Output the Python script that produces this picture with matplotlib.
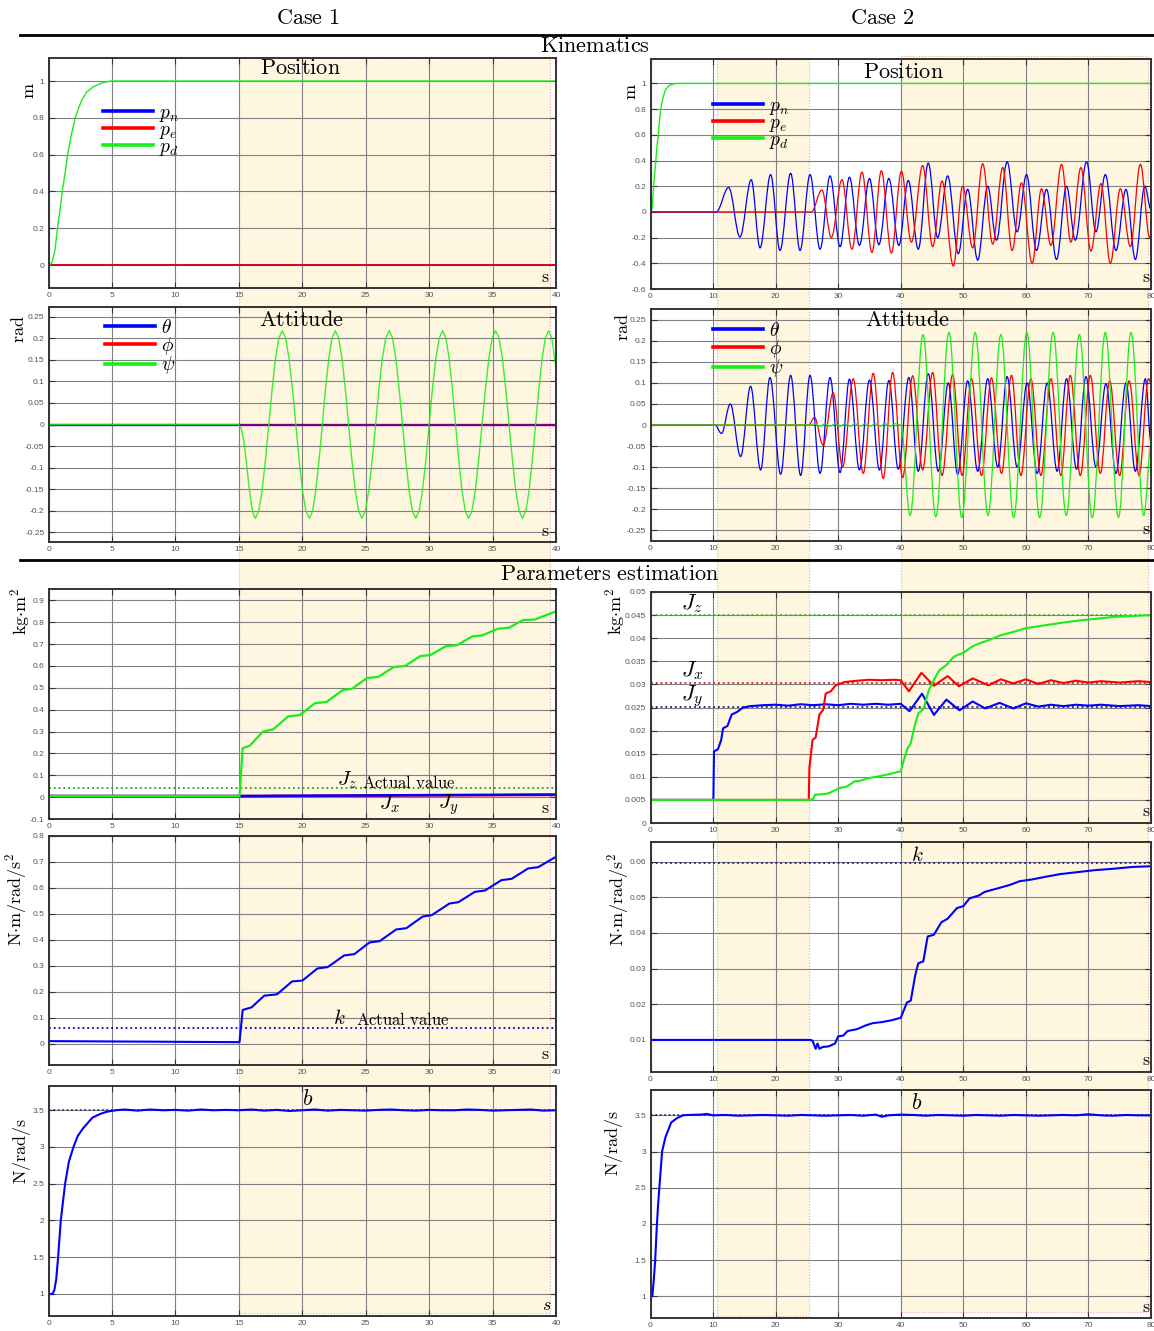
import numpy as np
import matplotlib
matplotlib.use('Agg')
import matplotlib.pyplot as plt
from matplotlib.patches import Rectangle, PathPatch
from matplotlib.path import Path
from matplotlib.lines import Line2D
from matplotlib.transforms import blended_transform_factory
from matplotlib.ticker import MultipleLocator, FuncFormatter

plt.rcParams['mathtext.fontset'] = 'cm'
plt.rcParams['axes.unicode_minus'] = False
plt.rcParams['font.family'] = ['Liberation Sans', 'DejaVu Sans']

# ---------------- text ----------------
case_titles = [r'$\mathrm{Case\ 1}$', r'$\mathrm{Case\ 2}$']
section_titles = [r'$\mathrm{Kinematics}$', r'$\mathrm{Parameters\ estimation}$']
panel_titles = [r'$\mathrm{Position}$', r'$\mathrm{Attitude}$']
pos_labels = [r'$p_n$', r'$p_e$', r'$p_d$']
att_labels = [r'$\theta$', r'$\phi$', r'$\psi$']
y_units = [r'$\mathrm{m}$', r'$\mathrm{rad}$', r'$\mathrm{kg{\cdot}m^2}$',
           r'$\mathrm{N{\cdot}m/rad/s^2}$', r'$\mathrm{N/rad/s}$']

# ---------------- data ----------------
c1_shades = [(15.0, 39.5)]
c2_shades = [(10.6, 25.4), (40.0, 79.6)]

# Case 1 - position
c1_pos_t = [0, 40]
c1_pn = [0, 0]
c1_pe = [0, 0]
c1_pd_t = [0, 0.25, 0.5, 0.7, 0.9, 1.08, 1.3, 1.5, 1.8, 2.1, 2.4, 2.65, 3.0, 3.55, 4.2, 4.9, 40]
c1_pd = [0, 0.01, 0.08, 0.2, 0.3, 0.4, 0.5, 0.6, 0.71, 0.8, 0.86, 0.9, 0.94, 0.97, 0.99, 1.0, 1.0]

# Case 1 - attitude
c1_att_t = [0, 40]
c1_theta = [0, 0]
c1_phi = [0, 0]
c1_psi_pts = [(0, 0), (15.0, 0), (15.2, -0.01), (15.4, -0.04), (15.6, -0.09), (15.8, -0.145),
              (16.0, -0.19), (16.15, -0.21), (16.3, -0.218),
              (16.565, -0.201), (16.83, -0.154), (17.095, -0.083), (17.36, 0), (17.625, 0.083), (17.89, 0.154), (18.155, 0.201), (18.42, 0.218),
              (18.69, 0.201), (18.95, 0.154), (19.22, 0.083), (19.49, 0), (19.75, -0.083), (20.02, -0.154), (20.28, -0.201), (20.55, -0.218),
              (20.81, -0.201), (21.06, -0.154), (21.32, -0.083), (21.58, 0), (21.83, 0.083), (22.09, 0.154), (22.34, 0.201), (22.6, 0.218),
              (22.86, 0.201), (23.13, 0.154), (23.39, 0.083), (23.65, 0), (23.91, -0.083), (24.18, -0.154), (24.44, -0.201), (24.7, -0.218),
              (24.97, -0.201), (25.24, -0.154), (25.51, -0.083), (25.78, 0), (26.04, 0.083), (26.31, 0.154), (26.58, 0.201), (26.85, 0.218),
              (27.11, 0.201), (27.37, 0.154), (27.63, 0.083), (27.9, 0), (28.16, -0.083), (28.42, -0.154), (28.68, -0.201), (28.94, -0.218),
              (29.21, -0.201), (29.47, -0.154), (29.74, -0.083), (30.0, 0), (30.26, 0.083), (30.53, 0.154), (30.8, 0.201), (31.06, 0.218),
              (31.32, 0.201), (31.57, 0.154), (31.83, 0.083), (32.08, 0), (32.34, -0.083), (32.59, -0.154), (32.85, -0.201), (33.1, -0.218),
              (33.37, -0.201), (33.64, -0.154), (33.9, -0.083), (34.17, 0), (34.44, 0.083), (34.71, 0.154), (34.97, 0.201), (35.24, 0.218),
              (35.51, 0.201), (35.77, 0.154), (36.04, 0.083), (36.3, 0), (36.57, -0.083), (36.83, -0.154), (37.1, -0.201), (37.36, -0.218),
              (37.62, -0.201), (37.88, -0.154), (38.13, -0.083), (38.39, 0), (38.65, 0.083), (38.91, 0.154), (39.16, 0.201), (39.42, 0.218),
              (39.68, 0.2), (40.0, 0.13)]

# Case 1 - inertia estimates
c1_J_pts_z = [(0, 0.005), (15.05, 0.005), (15.3, 0.224), (15.85, 0.235), (16.9, 0.3), (17.7, 0.31), (18.9, 0.37),
              (19.8, 0.375), (21.0, 0.43), (21.9, 0.435), (23.2, 0.49), (23.9, 0.495), (25.1, 0.545), (26.0, 0.55),
              (27.2, 0.595), (28.1, 0.6), (29.3, 0.645), (30.1, 0.65), (31.3, 0.69), (32.2, 0.695), (33.4, 0.735),
              (34.2, 0.74), (35.4, 0.77), (36.3, 0.775), (37.4, 0.81), (38.3, 0.812), (39.8, 0.845), (40.0, 0.85)]
c1_J_t_xy = [0, 15, 40]
c1_Jx = [0.005, 0.005, 0.010]
c1_Jy = [0.005, 0.005, 0.012]
c1_Jz_true = 0.04

# Case 1 - k estimate
c1_k_pts = [(0, 0.01), (15.05, 0.006), (15.3, 0.13), (16.0, 0.14), (17.0, 0.185), (18.0, 0.19), (19.2, 0.24),
            (20.0, 0.243), (21.2, 0.29), (22.0, 0.295), (23.3, 0.34), (24.1, 0.345), (25.3, 0.39), (26.1, 0.395),
            (27.4, 0.44), (28.2, 0.445), (29.5, 0.49), (30.2, 0.495), (31.6, 0.54), (32.3, 0.545), (33.6, 0.585),
            (34.4, 0.59), (35.7, 0.63), (36.5, 0.635), (37.8, 0.675), (38.6, 0.68), (40.0, 0.72)]
c1_k_true = 0.06

# Case 1 - b estimate
c1_b_pts = [(0, 1.0), (0.3, 1.0), (0.45, 1.05), (0.6, 1.2), (0.75, 1.5), (0.96, 2.0), (1.3, 2.5), (1.6, 2.8), (1.96, 3.0),
            (2.3, 3.15), (2.7, 3.25), (3.1, 3.33), (3.46, 3.4), (4.07, 3.45), (4.6, 3.48), (5.3, 3.5),
            (6, 3.51), (7, 3.495), (8, 3.51), (9, 3.5), (10, 3.505), (11, 3.495), (12, 3.51), (13, 3.5),
            (14, 3.505), (15, 3.5), (16, 3.51), (17, 3.495), (18, 3.505), (19, 3.49), (20, 3.5), (21, 3.51),
            (22, 3.495), (23, 3.505), (24, 3.5), (25, 3.495), (26, 3.505), (27, 3.51), (28, 3.5), (29, 3.495),
            (30, 3.505), (31, 3.5), (32, 3.5), (33, 3.51), (34, 3.505), (35, 3.495), (36, 3.5), (37, 3.505),
            (38, 3.51), (39, 3.495), (40, 3.5)]
c1_b_true = 3.5

# Case 2 - position (extrema of the oscillations)
c2_pn_pts = [(0, 0), (10.5, 0), (12.5, 0.19), (14.3, -0.195), (16.1, 0.25), (17.5, -0.28), (19.2, 0.29),
             (20.7, -0.30), (22.4, 0.30), (23.9, -0.30), (25.5, 0.29), (27.1, -0.29), (28.7, 0.28), (30.3, -0.27),
             (31.8, 0.27), (33.4, -0.26), (35.0, 0.26), (36.5, -0.255), (38.1, 0.26), (39.7, -0.26), (41.2, 0.245),
             (42.8, -0.29), (44.4, 0.38), (45.9, -0.2), (47.5, 0.28), (49.2, -0.325), (50.7, 0.175), (52.3, -0.375),
             (53.9, 0.2), (55.3, -0.22), (57.0, 0.39), (58.6, -0.155), (60.1, 0.29), (61.7, -0.30), (63.3, 0.175),
             (64.9, -0.37), (66.5, 0.2), (67.9, -0.22), (69.7, 0.39), (71.2, -0.155), (72.7, 0.29), (74.4, -0.30),
             (76.0, 0.175), (77.5, -0.37), (79.0, 0.2), (80.0, 0.02)]
c2_pe_pts = [(0, 0), (25.7, 0), (27.4, 0.17), (28.9, -0.2), (30.6, 0.25), (32.2, -0.29), (33.8, 0.31),
             (35.4, -0.315), (36.9, 0.32), (38.5, -0.32), (40.1, 0.315), (41.7, -0.235), (43.5, 0.36), (45.1, -0.27),
             (46.6, 0.24), (48.4, -0.42), (49.9, 0.2), (51.5, -0.28), (53.1, 0.375), (54.7, -0.25), (56.3, 0.345),
             (57.8, -0.3), (59.3, 0.225), (61.0, -0.4), (62.5, 0.18), (64.0, -0.26), (65.7, 0.37), (67.2, -0.235),
             (68.8, 0.345), (70.4, -0.305), (72.0, 0.22), (73.5, -0.4), (75.1, 0.18), (76.7, -0.27), (78.3, 0.37),
             (79.8, -0.2), (80.0, -0.19)]
c2_pd_pts = [(0, 0), (0.25, 0.02), (0.5, 0.2), (0.85, 0.4), (1.05, 0.52), (1.24, 0.6), (1.45, 0.72), (1.63, 0.8),
             (2.0, 0.89), (2.4, 0.95), (3.0, 0.985), (4.0, 1.0), (80, 1.0)]

# Case 2 - attitude (extrema of the oscillations)
c2_theta_pts = [(0, 0), (10.3, 0), (11.35, -0.02), (12.75, 0.05), (14.4, -0.075), (16.0, 0.092), (17.6, -0.107),
                (19.1, 0.113), (20.8, -0.117), (22.4, 0.118), (24.0, -0.12), (25.5, 0.118), (27.1, -0.115),
                (28.7, 0.113), (30.3, -0.113), (31.8, 0.109), (33.4, -0.107), (35.0, 0.107), (36.6, -0.107),
                (38.1, 0.106), (39.6, -0.105), (41.3, 0.113), (42.8, -0.11), (44.4, 0.122), (46.0, -0.11),
                (47.6, 0.1), (49.1, -0.118), (50.7, 0.105), (52.3, -0.11), (53.9, 0.11), (55.5, -0.1),
                (57.0, 0.115), (58.6, -0.1), (60.2, 0.1), (61.8, -0.115), (63.4, 0.1), (65.0, -0.11),
                (66.5, 0.11), (68.1, -0.105), (69.6, 0.115), (71.2, -0.1), (72.8, 0.098), (74.4, -0.115),
                (76.0, 0.1), (77.5, -0.11), (79.1, 0.11), (80.0, -0.04)]
c2_phi_pts = [(0, 0), (25.3, 0), (26.2, 0.018), (27.6, -0.048), (29.2, 0.077), (30.7, -0.1), (32.4, 0.11),
              (34.0, -0.115), (35.6, 0.123), (37.2, -0.127), (38.7, 0.125), (40.3, -0.125), (41.9, 0.117),
              (43.5, -0.107), (45.1, 0.125), (46.6, -0.12), (48.3, 0.12), (49.8, -0.12), (51.3, 0.11),
              (52.9, -0.12), (54.5, 0.112), (56.1, -0.115), (57.7, 0.118), (59.2, -0.12), (60.8, 0.11),
              (62.4, -0.12), (64.0, 0.11), (65.6, -0.12), (67.1, 0.118), (68.7, -0.12), (70.3, 0.118),
              (71.9, -0.115), (73.4, 0.105), (75.0, -0.12), (76.5, 0.105), (78.1, -0.12), (79.6, 0.11), (80.0, 0.1)]
c2_psi_pts = [(0, 0), (25.5, 0), (26.3, 0.003), (27.1, -0.003), (27.9, 0.003), (28.7, -0.003), (29.5, 0.003),
              (30.3, -0.003), (31.1, 0.003), (31.9, -0.003), (32.7, 0.003), (33.5, -0.003), (34.3, 0.003),
              (35.1, -0.003), (35.9, 0.003), (36.7, -0.003), (37.5, 0.003), (38.3, -0.003), (39.1, 0.003),
              (40.0, 0), (41.5, -0.215), (43.55, 0.215), (45.6, -0.218), (47.7, 0.22), (49.75, -0.22),
              (51.9, 0.22), (53.95, -0.215), (56.0, 0.215), (58.05, -0.22), (60.15, 0.22), (62.2, -0.22),
              (64.35, 0.22), (66.45, -0.215), (68.55, 0.215), (70.6, -0.22), (72.7, 0.22), (74.8, -0.22),
              (76.8, 0.22), (78.85, -0.215), (80.0, -0.05)]

# Case 2 - inertia estimates
c2_Jy_pts = [(0, 0.005), (10.05, 0.005), (10.15, 0.0155), (10.8, 0.016), (11.3, 0.018), (11.6, 0.0205), (12.3, 0.021),
             (12.7, 0.0225), (13.0, 0.0235), (13.8, 0.024), (14.8, 0.025), (16.0, 0.0253), (18.0, 0.0255),
             (20, 0.0256), (22, 0.0254), (24, 0.0257), (26, 0.0255), (28, 0.0257), (30, 0.0255), (32, 0.0258),
             (34, 0.0256), (36, 0.0258), (38, 0.0256), (40, 0.0258), (41.4, 0.0242), (43.4, 0.028), (45.3, 0.0234),
             (47.3, 0.0267), (49.4, 0.0244), (51.5, 0.0263), (53.5, 0.0248), (55.8, 0.026), (58.0, 0.0248),
             (60.0, 0.0259), (62, 0.0252), (64, 0.0256), (66, 0.0253), (68, 0.0256), (70, 0.0254), (72, 0.0256),
             (75, 0.0253), (78, 0.0255), (80, 0.0253)]
c2_Jx_pts = [(0, 0.005), (25.3, 0.005), (25.4, 0.012), (25.9, 0.018), (26.4, 0.0185), (27.0, 0.0235), (27.6, 0.0245),
             (28.0, 0.028), (28.8, 0.0285), (29.6, 0.0298), (31, 0.0305), (33, 0.0308), (35, 0.031), (37, 0.0309),
             (39, 0.031), (40, 0.0309), (41.3, 0.0285), (43.3, 0.0325), (45.3, 0.0297), (47.5, 0.0318),
             (49.3, 0.0296), (51.5, 0.0313), (54.0, 0.0298), (56.0, 0.0311), (58.0, 0.0302), (60.0, 0.0311),
             (62, 0.0301), (64, 0.0309), (66, 0.0303), (68, 0.0308), (70, 0.0304), (72, 0.0307), (75, 0.0304),
             (78, 0.0307), (80, 0.0305)]
c2_Jz_pts = [(0, 0.005), (25.5, 0.005), (26.0, 0.0052), (26.3, 0.0061), (28.0, 0.0063), (28.6, 0.0065), (30.3, 0.0076),
             (31.4, 0.0079), (32.6, 0.009), (33.4, 0.0091), (34.8, 0.0097), (36.5, 0.0101), (38.2, 0.0106),
             (40.0, 0.0112), (40.5, 0.0137), (41.1, 0.0162), (41.6, 0.0173), (42.2, 0.0209), (42.8, 0.0237),
             (43.6, 0.0246), (44.5, 0.0288), (45.3, 0.031), (46.2, 0.0331), (47.3, 0.0342), (48.5, 0.036),
             (50.2, 0.037), (51.3, 0.0381), (52.4, 0.0388), (54.1, 0.0396), (55.9, 0.0406), (58.1, 0.0414),
             (59.8, 0.0421), (62.1, 0.0426), (65.5, 0.0433), (68.9, 0.0439), (71.2, 0.0442), (74.0, 0.0446),
             (76.9, 0.0448), (80.0, 0.045)]
c2_Jx_true = 0.0302
c2_Jy_true = 0.0252
c2_Jz_true = 0.045

# Case 2 - k estimate
c2_k_pts = [(0, 0.01), (25.5, 0.01), (25.9, 0.0098), (26.4, 0.0075), (26.7, 0.009), (27.0, 0.0075), (27.5, 0.008),
            (28.5, 0.0082), (29.5, 0.009), (30.0, 0.011), (30.8, 0.0112), (31.5, 0.0125), (33.0, 0.013),
            (34.3, 0.014), (35.5, 0.0147), (37.0, 0.015), (38.5, 0.0155), (40.0, 0.0162), (41.0, 0.0205),
            (41.6, 0.021), (42.3, 0.028), (42.8, 0.0315), (43.6, 0.032), (44.3, 0.039), (45.3, 0.0395),
            (46.5, 0.043), (47.5, 0.044), (49.0, 0.047), (50.0, 0.0475), (51.0, 0.0497), (52.5, 0.0505),
            (53.4, 0.0515), (55.5, 0.0525), (57.5, 0.0535), (59.0, 0.0545), (61.0, 0.055), (63.0, 0.0557),
            (65.5, 0.0565), (68.0, 0.057), (71.0, 0.0576), (74.0, 0.058), (77.0, 0.0585), (80.0, 0.0587)]
c2_k_true = 0.0597

# Case 2 - b estimate
c2_b_pts = [(0, 1.0), (0.3, 1.0), (0.5, 1.2), (0.75, 1.5), (1.0, 1.95), (1.2, 2.25), (1.46, 2.55), (1.85, 3.0),
            (2.4, 3.2), (3.3, 3.4), (4.2, 3.46), (5.2, 3.5), (6, 3.505), (8, 3.51), (9, 3.52), (10, 3.5),
            (12, 3.505), (14, 3.495), (16, 3.5), (18, 3.505), (20, 3.5), (22, 3.495), (24, 3.505), (26, 3.5),
            (28, 3.495), (30, 3.5), (32, 3.505), (34, 3.495), (36, 3.51), (37, 3.48), (38, 3.5), (40, 3.51),
            (42, 3.505), (44, 3.495), (46, 3.505), (48, 3.5), (50, 3.495), (52, 3.505), (54, 3.5), (56, 3.495),
            (58, 3.505), (60, 3.5), (62, 3.495), (64, 3.5), (66, 3.505), (68, 3.5), (70, 3.515), (72, 3.5),
            (74, 3.495), (76, 3.505), (78, 3.5), (80, 3.5)]
c2_b_true = 3.5

# ---------------- layout ----------------
W, H = 1154, 1331
fig = plt.figure(figsize=(W / 100, H / 100), dpi=100)

BLUE, RED, GREEN = '#0000ff', '#ff0000', '#18ee18'


def fx(px):
    return px / W


def fy(py):
    return 1 - py / H


def add_ax(xr, yr):
    x0, x1 = xr
    y0, y1 = yr
    return fig.add_axes([x0 / W, 1 - y1 / H, (x1 - x0) / W, (y1 - y0) / H])


def tickfmt(v, p):
    if abs(v) < 1e-12:
        return '0'
    return '%g' % round(v, 6)


def style(ax, xlim, xstep, ylim, ystep):
    ax.set_facecolor('none')
    ax.set_xlim(*xlim)
    ax.set_ylim(*ylim)
    ax.xaxis.set_major_locator(MultipleLocator(xstep))
    ax.yaxis.set_major_locator(MultipleLocator(ystep))
    ax.xaxis.set_major_formatter(FuncFormatter(tickfmt))
    ax.yaxis.set_major_formatter(FuncFormatter(tickfmt))
    ax.grid(True, color='#808080', lw=0.8)
    ax.set_axisbelow(True)
    ax.tick_params(direction='in', length=4, width=0.8, top=True, right=True,
                   labelsize=6, labelcolor='#555555', color='#333333', pad=3)
    for sp in ax.spines.values():
        sp.set_color('#333333')
        sp.set_linewidth(1.4)


def xy(pts):
    return [p[0] for p in pts], [p[1] for p in pts]


def smooth(ax, pts, color, lw, alpha=1.0):
    """Draw a smooth curve through the listed extrema (horizontal tangents) with Bezier segments."""
    verts = [pts[0]]
    codes = [Path.MOVETO]
    for (t0, v0), (t1, v1) in zip(pts[:-1], pts[1:]):
        h = t1 - t0
        verts += [(t0 + 0.364 * h, v0), (t1 - 0.364 * h, v1), (t1, v1)]
        codes += [Path.CURVE4] * 3
    ax.add_patch(PathPatch(Path(verts, codes), fill=False, edgecolor=color, lw=lw,
                           alpha=alpha, transform=ax.transData))
    return Line2D([], [], color=color)


def make_legend(ax, handles, labels, px, py):
    leg = ax.legend(handles, labels, loc='upper left', bbox_to_anchor=(fx(px), fy(py)),
                    bbox_transform=fig.transFigure, frameon=False, fontsize=14, handlelength=2.55,
                    handletextpad=0.35, labelspacing=-0.12, borderpad=0, borderaxespad=0)
    for h in leg.get_lines():
        h.set_linewidth(2.6)
        h.set_alpha(1)


LX = (48.6, 556)
RX = (650.5, 1151)
rows_L = [(58, 288), (307, 542), (589, 819), (836, 1065), (1086, 1316)]
rows_R = [(59, 289), (309, 541), (592, 823), (842, 1072), (1090, 1318)]

axL = [add_ax(LX, r) for r in rows_L]
axR = [add_ax(RX, r) for r in rows_R]

style(axL[0], (0, 40), 5, (-0.125, 1.125), 0.2)
style(axL[1], (0, 40), 5, (-0.273, 0.273), 0.05)
style(axL[2], (0, 40), 5, (-0.1, 0.952), 0.1)
style(axL[3], (0, 40), 5, (-0.082, 0.8), 0.1)
style(axL[4], (0, 40), 5, (0.7, 3.83), 0.5)
style(axR[0], (0, 80), 10, (-0.6, 1.19), 0.2)
style(axR[1], (0, 80), 10, (-0.276, 0.276), 0.05)
style(axR[2], (0, 80), 10, (0, 0.05), 0.005)
style(axR[3], (0, 80), 10, (0.001, 0.0655), 0.01)
style(axR[4], (0, 80), 10, (0.7, 3.85), 0.5)

# shaded windows spanning the columns
for ax, shades, ext in [(axL[0], c1_shades, [(57, 1313)]),
                        (axR[0], c2_shades, [(59, 1316), (56, 1312)])]:
    tr = blended_transform_factory(ax.transData, fig.transFigure)
    for (a, b), (ytop, ybot) in zip(shades, ext):
        rct = Rectangle((a, fy(ybot)), b - a, (ybot - ytop) / H, transform=tr,
                        facecolor='#fff6e0', edgecolor='#f4a8a8', ls=':', lw=0.8, zorder=-5)
        fig.add_artist(rct)

# ---------- Case 1 ----------
ax = axL[0]
l1, = ax.plot(c1_pos_t, c1_pn, color=BLUE, lw=1.2)
l2, = ax.plot(c1_pos_t, c1_pe, color=RED, lw=1.2)
l3, = ax.plot(c1_pd_t, c1_pd, color=GREEN, lw=1.0)
make_legend(ax, [l1, l2, l3], pos_labels, 103, 104)

ax = axL[1]
l1, = ax.plot(c1_att_t, c1_theta, color=BLUE, lw=1.6)
l2, = ax.plot(c1_att_t, c1_phi, color=RED, lw=1.6, alpha=0.5)
t, v = xy(c1_psi_pts)
l3, = ax.plot(t, v, color=GREEN, lw=1.0, alpha=0.85)
make_legend(ax, [l1, l2, l3], att_labels, 105, 319)

ax = axL[2]
ax.axhline(c1_Jz_true, color='#20a020', ls=':', lw=1.3)
ax.plot(c1_J_t_xy, c1_Jx, color=RED, lw=1.8)
ax.plot(c1_J_t_xy, c1_Jy, color=BLUE, lw=1.8)
t, v = xy(c1_J_pts_z)
ax.plot(t, v, color=GREEN, lw=1.6)
ax.text(23.5, 0.078, r'$J_z$', fontsize=15, ha='center', va='center')
ax.text(28.4, 0.069, r'$\mathrm{Actual\ value}$', fontsize=12, ha='center', va='center')
ax.text(26.9, -0.032, r'$J_x$', fontsize=15, ha='center', va='center')
ax.text(31.5, -0.032, r'$J_y$', fontsize=15, ha='center', va='center')

ax = axL[3]
ax.axhline(c1_k_true, color='#0000c0', ls=':', lw=1.3)
t, v = xy(c1_k_pts)
ax.plot(t, v, color=BLUE, lw=1.5)
ax.text(22.9, 0.099, r'$k$', fontsize=15, ha='center', va='center')
ax.text(27.9, 0.095, r'$\mathrm{Actual\ value}$', fontsize=12, ha='center', va='center')

ax = axL[4]
ax.axhline(c1_b_true, color='#202060', ls=':', lw=1.2)
t, v = xy(c1_b_pts)
ax.plot(t, v, color=BLUE, lw=1.5)
ax.text(20.4, 3.64, r'$b$', fontsize=16, ha='center', va='center')

# ---------- Case 2 ----------
ax = axR[0]
h1 = smooth(ax, c2_pn_pts, BLUE, 0.9)
h2 = smooth(ax, c2_pe_pts, RED, 0.9)
t, v = xy(c2_pd_pts)
h3, = ax.plot(t, v, color=GREEN, lw=1.0)
make_legend(ax, [h1, h2, h3], pos_labels, 713, 97)

ax = axR[1]
h1 = smooth(ax, c2_theta_pts, BLUE, 0.9)
h2 = smooth(ax, c2_phi_pts, RED, 0.9)
h3 = smooth(ax, c2_psi_pts, GREEN, 0.9)
make_legend(ax, [h1, h2, h3], att_labels, 713, 322)

ax = axR[2]
ax.axhline(c2_Jz_true, color='#20c020', ls=':', lw=1.3)
ax.axhline(c2_Jx_true, color='#d02020', ls=':', lw=1.3)
ax.axhline(c2_Jy_true, color='#202080', ls=':', lw=1.3)
t, v = xy(c2_Jy_pts)
ax.plot(t, v, color=BLUE, lw=1.5)
t, v = xy(c2_Jx_pts)
ax.plot(t, v, color=RED, lw=1.5)
t, v = xy(c2_Jz_pts)
ax.plot(t, v, color=GREEN, lw=1.5)
ax.text(6.6, 0.0474, r'$J_z$', fontsize=16, ha='center', va='center')
ax.text(6.6, 0.0329, r'$J_x$', fontsize=16, ha='center', va='center')
ax.text(6.6, 0.0275, r'$J_y$', fontsize=16, ha='center', va='center')

ax = axR[3]
ax.axhline(c2_k_true, color='#202080', ls=':', lw=1.3)
t, v = xy(c2_k_pts)
ax.plot(t, v, color=BLUE, lw=1.5)
ax.text(42.6, 0.0616, r'$k$', fontsize=15, ha='center', va='center')

ax = axR[4]
ax.axhline(c2_b_true, color='#202060', ls=':', lw=1.2)
t, v = xy(c2_b_pts)
ax.plot(t, v, color=BLUE, lw=1.5)
ax.text(42.6, 3.66, r'$b$', fontsize=16, ha='center', va='center')

# panel titles
fig.text(fx(300), fy(68), panel_titles[0], fontsize=16, ha='center', va='center')
fig.text(fx(903), fy(72), panel_titles[0], fontsize=16, ha='center', va='center')
fig.text(fx(301), fy(320), panel_titles[1], fontsize=16, ha='center', va='center')
fig.text(fx(907), fy(321), panel_titles[1], fontsize=16, ha='center', va='center')

# "s" axis unit labels
for ax in axL[:4]:
    ax.text(0.978, 0.045, r'$\mathrm{s}$', transform=ax.transAxes, fontsize=13, ha='center', va='center')
axL[4].text(0.982, 0.045, r'$s$', transform=axL[4].transAxes, fontsize=13, ha='center', va='center')
for ax in axR:
    ax.text(0.99, 0.048, r'$\mathrm{s}$', transform=ax.transAxes, fontsize=13, ha='center', va='center')

# y unit labels
yl_L = [(29, 82), (20, 315), (20, 588), (16, 853), (22, 1118)]
yl_R = [(632, 83), (623, 313), (615, 588), (618, 853), (614, 1110)]
for (px, py), lab in zip(yl_L, y_units):
    fig.text(fx(px), fy(py), lab, fontsize=13, rotation=90, ha='center', va='top')
for (px, py), lab in zip(yl_R, y_units):
    fig.text(fx(px), fy(py), lab, fontsize=13, rotation=90, ha='center', va='top')

# headers and separators
fig.text(fx(308), fy(18), case_titles[0], fontsize=16, ha='center', va='center')
fig.text(fx(882), fy(18), case_titles[1], fontsize=16, ha='center', va='center')
fig.add_artist(Line2D([fx(20), 1], [fy(35), fy(35)], color='black', lw=2.0))
fig.add_artist(Line2D([fx(20), 1], [fy(560), fy(560)], color='black', lw=2.0))
fig.text(fx(595), fy(47), section_titles[0], fontsize=16, ha='center', va='center')
fig.text(fx(610), fy(575), section_titles[1], fontsize=16, ha='center', va='center')

fig.savefig('out.png', dpi=100)
